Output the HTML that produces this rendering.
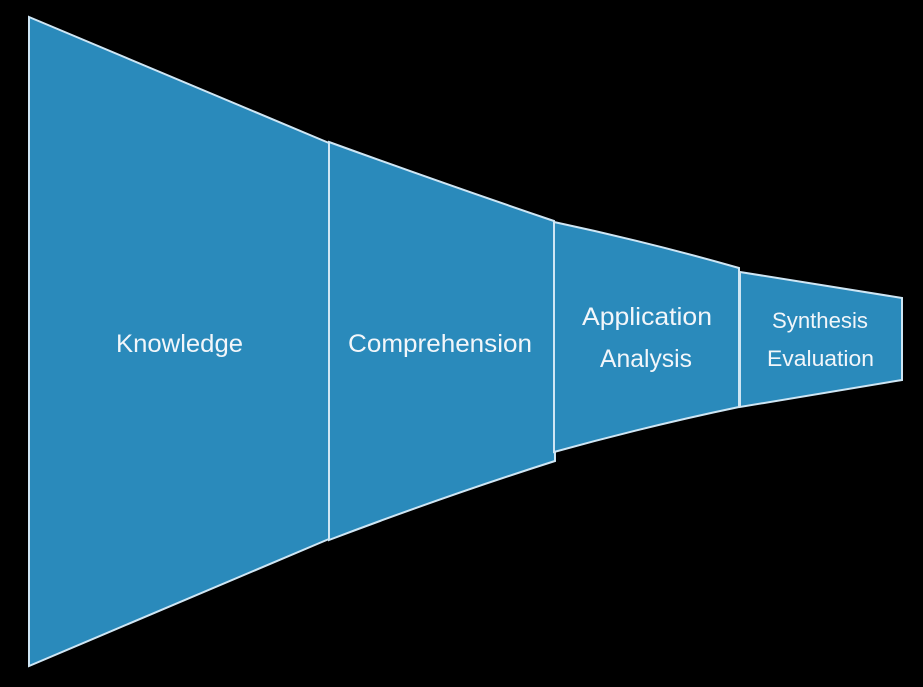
<!DOCTYPE html>
<html><head><meta charset="utf-8"><style>
html,body{margin:0;padding:0;background:#000;}
svg{display:block;}
text{font-family:"Liberation Sans",sans-serif;fill:#f2f6fa;}
</style></head><body>
<svg width="923" height="687" viewBox="0 0 923 687" xmlns="http://www.w3.org/2000/svg">
<rect width="923" height="687" fill="#000"/>
<g fill="#2A8ABB" stroke="#cfe6f4" stroke-width="2" stroke-linejoin="miter">
<path d="M29,17 L329,143 L329,539 L29,666 Z"/>
<path d="M329,142 Q445,184 554,221 L555,461 Q445,496 329,540 Z"/>
<path d="M554,222 Q648,242 739,268 L739,407 Q648,426 554,452 Z"/>
<path d="M740,272 L902,298 L902,380 L740,407 Z"/>
</g>
<text x="116" y="352" font-size="25" textLength="127" lengthAdjust="spacingAndGlyphs">Knowledge</text>
<text x="348" y="352" font-size="25" textLength="184" lengthAdjust="spacingAndGlyphs">Comprehension</text>
<text x="582" y="325" font-size="25" textLength="130" lengthAdjust="spacingAndGlyphs">Application</text>
<text x="600" y="367" font-size="25" textLength="92" lengthAdjust="spacingAndGlyphs">Analysis</text>
<text x="772" y="328" font-size="22" textLength="96" lengthAdjust="spacingAndGlyphs">Synthesis</text>
<text x="767" y="366" font-size="22" textLength="107" lengthAdjust="spacingAndGlyphs">Evaluation</text>
</svg>
</body></html>
